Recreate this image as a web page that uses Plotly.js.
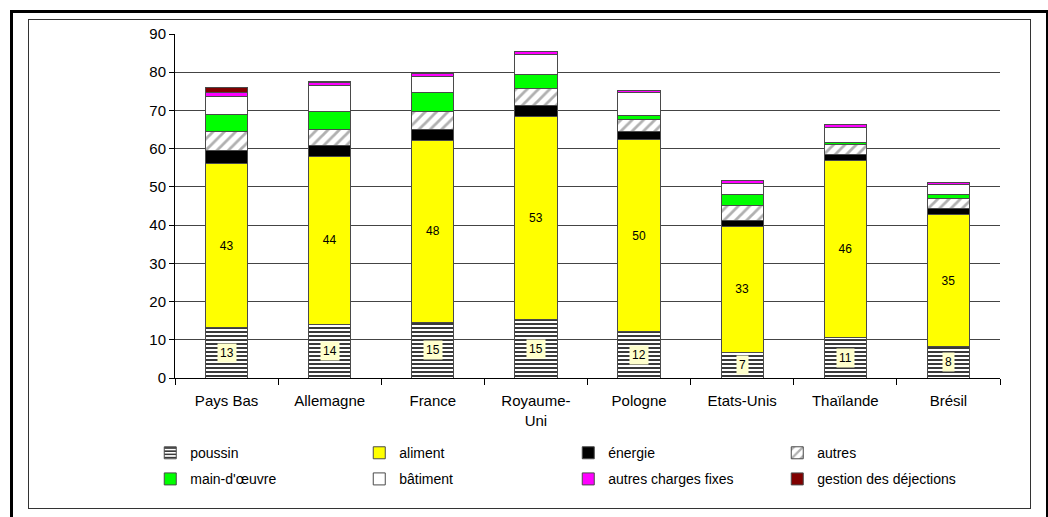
<!DOCTYPE html>
<html>
<head>
<meta charset="utf-8">
<script src="https://cdn.plot.ly/plotly-3.0.1.min.js"></script>
<style>
  html, body { margin: 0; padding: 0; background: #fff; }
  #wrap { position: relative; width: 1048px; height: 517px; overflow: hidden; }
  #chart { position: absolute; left: 0; top: 0; width: 1048px; height: 517px; }
  #outer { position: absolute; left: 10px; top: 10px; width: 1033px; height: 520px; border: 3px solid #000; pointer-events: none; }
  #inner { position: absolute; left: 28px; top: 19px; width: 1001px; height: 488px; border: 1px solid #333; pointer-events: none; }
</style>
</head>
<body>
<div id="wrap">
  <div id="chart"></div>
  <div id="outer"></div>
  <div id="inner"></div>
</div>
<script>
const categories = ["Pays Bas", "Allemagne", "France", "Royaume-<br>Uni", "Pologne", "Etats-Unis", "Thaïlande", "Brésil"];

const poussin   = [13.1, 14.1, 14.6, 15.2, 12.1, 6.7, 10.6, 8.2];
const aliment   = [42.9, 43.9, 47.6, 53.3, 50.2, 33.0, 46.4, 34.6];
const energie   = [3.5, 2.8, 2.9, 2.7, 2.1, 1.5, 1.5, 1.6];
const autres    = [5.0, 4.3, 4.6, 4.5, 3.2, 4.0, 2.5, 2.6];
const mainOeuvre = [4.4, 4.5, 4.9, 3.6, 1.2, 2.8, 0.7, 0.9];
const batiment  = [4.8, 7.0, 4.2, 5.3, 6.0, 2.9, 3.9, 2.8];
const autresChargesFixes = [0.9, 0.8, 0.9, 0.8, 0.5, 0.7, 0.6, 0.5];
const gestionDejections  = [1.3, 0.3, 0, 0, 0, 0, 0, 0];

const seriesNames = ["poussin", "aliment", "énergie", "autres", "main-d'œuvre", "bâtiment", "autres charges fixes", "gestion des déjections"];

const outline = { color: "#4a4a4a", width: 1 };
const FONT = "Liberation Sans, Arial, sans-serif";

function bar(name, y, marker, legendId, extra) {
  return Object.assign({
    type: "bar", name: name, x: categories, y: y, legend: legendId,
    marker: Object.assign({ line: outline }, marker),
    hoverinfo: "name+y"
  }, extra || {});
}

const traces = [
  bar(seriesNames[0], poussin, { color: "#ffffff", pattern: { shape: "-", fgcolor: "#3a3a3a", bgcolor: "#ffffff", size: 4, solidity: 0.5 } }, "legend"),
  bar(seriesNames[1], aliment, { color: "#ffff00" }, "legend", {
    texttemplate: "%{y:.0f}", textposition: "inside", insidetextanchor: "middle",
    textfont: { family: FONT, size: 12, color: "#000" }, textangle: 0
  }),
  bar(seriesNames[2], energie, { color: "#000000" }, "legend"),
  bar(seriesNames[3], autres, { color: "#ffffff", pattern: { shape: "/", fgcolor: "#b0b0b0", bgcolor: "#ffffff", size: 8, solidity: 0.35 } }, "legend"),
  bar(seriesNames[4], mainOeuvre, { color: "#00ff00" }, "legend2"),
  bar(seriesNames[5], batiment, { color: "#ffffff" }, "legend2"),
  bar(seriesNames[6], autresChargesFixes, { color: "#ff00ff" }, "legend2"),
  bar(seriesNames[7], gestionDejections, { color: "#800000" }, "legend2")
];

const annotations = categories.map((c, i) => ({
  x: c, y: poussin[i] / 2, xref: "x", yref: "y",
  text: String(Math.round(poussin[i])), showarrow: false,
  bgcolor: "#ffffcc", borderpad: 2,
  font: { family: FONT, size: 12, color: "#000" }
}));

function legendBox(y) {
  return {
    orientation: "h", traceorder: "normal",
    x: -0.03, xanchor: "left", y: y, yanchor: "top",
    entrywidthmode: "pixels", entrywidth: 164,
    itemwidth: 30,
    font: { family: FONT, size: 14, color: "#000" },
    bgcolor: "rgba(0,0,0,0)"
  };
}

const layout = {
  width: 1048, height: 517,
  margin: { l: 175, r: 48, t: 34, b: 139 },
  paper_bgcolor: "#ffffff", plot_bgcolor: "#ffffff",
  barmode: "stack", bargap: 0.59,
  font: { family: FONT, size: 14, color: "#000" },
  showlegend: true,
  legend: legendBox(-0.172),
  legend2: legendBox(-0.248),
  xaxis: {
    type: "category", showline: true, linecolor: "#000", linewidth: 1,
    ticks: "outside", tickson: "boundaries", ticklen: 6, tickcolor: "#000",
    ticklabelstandoff: 9,
    tickfont: { family: FONT, size: 15, color: "#000" }, showgrid: false, fixedrange: true
  },
  yaxis: {
    range: [0, 90], dtick: 10, tick0: 0,
    showline: true, linecolor: "#000", linewidth: 1,
    ticks: "outside", ticklen: 5, tickcolor: "#000",
    showgrid: true, gridcolor: "#444", gridwidth: 1,
    zeroline: false,
    tickfont: { family: FONT, size: 15, color: "#000" }, fixedrange: true
  },
  annotations: annotations
};

Plotly.newPlot("chart", traces, layout, { displayModeBar: false, staticPlot: true });
</script>
</body>
</html>
